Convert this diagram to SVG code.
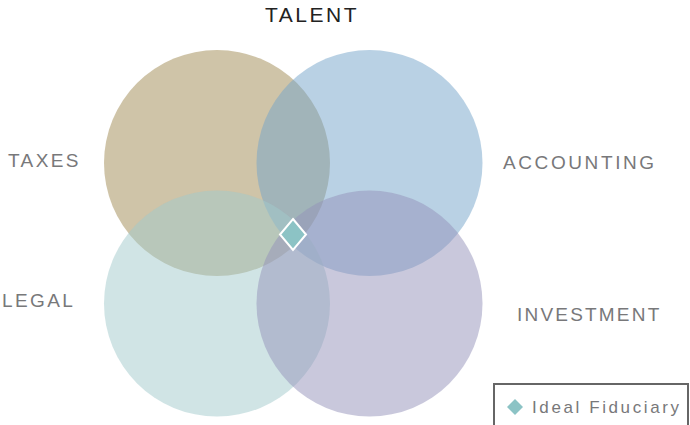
<svg xmlns="http://www.w3.org/2000/svg" width="690" height="425" viewBox="0 0 690 425">
<style>
.c{opacity:0.5}
.lbl{font-family:"Liberation Sans",Arial,sans-serif;font-size:19px;letter-spacing:2.4px;fill:#78787a}
.ttl{font-family:"Liberation Sans",Arial,sans-serif;font-size:21px;letter-spacing:2.5px;fill:#222}
.leg{font-family:"Liberation Sans",Arial,sans-serif;font-size:17px;letter-spacing:2.6px;fill:#78787a}
.dia{fill:#8cc3c5}
</style>
<rect width="690" height="425" fill="#ffffff"/>
<g id="taxes"><circle class="c" cx="217" cy="163" r="113" fill="#9f8951"/><text class="lbl" x="8" y="167">TAXES</text></g>
<g id="accounting"><circle class="c" cx="369.5" cy="163" r="113" fill="#73a3c9"/><text class="lbl" x="503" y="169" style="letter-spacing:2.6px">ACCOUNTING</text></g>
<g id="legal"><circle class="c" cx="217" cy="303.5" r="113" fill="#a1c9cb"/><text class="lbl" x="2" y="307">LEGAL</text></g>
<g id="investment"><circle class="c" cx="369.5" cy="303.5" r="113" fill="#9391b9"/><text class="lbl" x="517" y="321" style="letter-spacing:2.2px">INVESTMENT</text></g>
<g id="talent"><text class="ttl" x="265" y="22">TALENT</text></g>
<g id="ideal"><polygon class="dia" points="293,219 306,234.5 293,250 280,234.5" stroke="#ffffff" stroke-width="2"/></g>
<g id="connectors"></g>
<g id="legend">
<rect x="494" y="384" width="194" height="50" fill="#ffffff" stroke="#666666" stroke-width="2"/>
<polygon class="dia" points="515,399 523,407 515,415 507,407"/>
<text class="leg" x="532" y="413">Ideal Fiduciary</text>
</g>
</svg>
